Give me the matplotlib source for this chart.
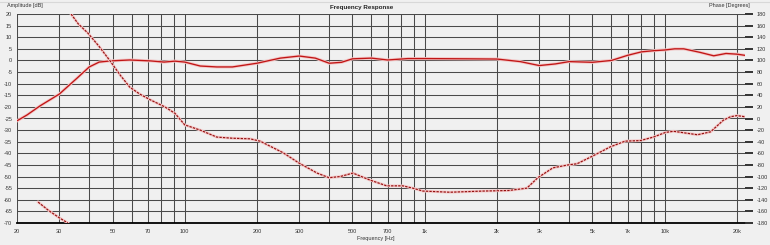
import matplotlib
matplotlib.use("Agg")
import matplotlib.pyplot as plt

# amplitude response (Hz, dB)
amp_freq = [20, 22, 25, 30, 35.6, 40, 44, 49, 59, 72, 82, 91, 100, 116, 136, 158, 200,
            250, 300, 350, 400, 450, 500, 600, 700, 850, 1000, 1500, 2000, 2500, 3000,
            3500, 4000, 5000, 6000, 7000, 8000, 9000, 10000, 11000, 12000, 14000, 16000,
            18000, 20000, 21600]
amp_db = [-26, -23.5, -19.5, -14.5, -7.6, -2.8, -0.7, -0.2, 0.2, -0.2, -0.7, -0.3, -0.7,
          -2.4, -2.8, -2.8, -1.2, 1.0, 1.9, 1.0, -1.2, -0.8, 0.7, 1.0, 0.2, 0.8, 0.8, 0.7,
          0.6, -0.5, -2.2, -1.5, -0.5, -0.8, 0.0, 2.2, 3.7, 4.2, 4.5, 5.0, 5.0, 3.5, 2.0,
          3.0, 2.7, 2.2]

# phase (Hz, degrees), low part before the wrap at -180
ph_low_freq = [24.5, 27, 30, 32.6]
ph_low_deg = [-144, -158, -171, -180]

# phase after the wrap
ph_freq = [33.6, 36, 39.5, 44, 48.9, 54, 59, 65, 72, 82.6, 91, 100, 116, 136, 158, 187,
           206, 257, 300, 356, 399, 444, 502, 591, 694, 811, 892, 983, 1273, 1745, 2241,
           2663, 2960, 3420, 3950, 4310, 4990, 5920, 6840, 7920, 8970, 10070, 10880, 13690,
           15520, 17540, 18780, 20000, 21600]
ph_deg = [180, 163, 147, 124, 99, 74, 54, 42, 32, 20, 9, -11, -20, -32, -34, -35,
          -39, -59, -77, -94, -102, -100, -94, -106, -116, -116, -120, -125, -127, -125, -124,
          -120, -102, -85, -80, -78, -65, -49, -39, -38, -32, -24, -22, -28,
          -23, -3, 3, 5, 3]

grid_freqs = [20, 30, 40, 50, 60, 70, 80, 90, 100, 200, 300, 400, 500, 600, 700, 800, 900,
              1000, 2000, 3000, 4000, 5000, 6000, 7000, 8000, 9000, 10000, 20000]
freq_labels = {20: "20", 30: "30", 50: "50", 70: "70", 100: "100", 200: "200", 300: "300",
               500: "500", 700: "700", 1000: "1k", 2000: "2k", 3000: "3k", 5000: "5k",
               7000: "7k", 10000: "10k", 20000: "20k"}

plt.rcParams['axes.unicode_minus'] = False
plt.rcParams['font.family'] = 'Liberation Sans'

bg = '#f0f0f0'
W, H = 770, 245
fig = plt.figure(figsize=(W / 100, H / 100), dpi=100, facecolor=bg)
ax = fig.add_axes([17 / W, 1 - 223 / H, (745 - 17) / W, (223 - 14) / H])
ax.set_facecolor(bg)
ax.set_xscale('log')
ax.set_xlim(20, 21600)
ax.set_ylim(-70, 20)

ax.set_xticks(grid_freqs)
ax.set_xticklabels([freq_labels.get(f, "") for f in grid_freqs])
ax.xaxis.set_minor_locator(matplotlib.ticker.NullLocator())
ax.set_yticks(range(-70, 21, 5))
ax.tick_params(axis='both', length=0, labelsize=4, colors='#333333')
ax.tick_params(axis='x', pad=4)
ax.tick_params(axis='y', pad=3.5)
ax.grid(True, color='#4a4a4a', linewidth=0.75)
for s in ['top', 'right', 'left']:
    ax.spines[s].set_visible(False)
ax.spines['bottom'].set_color('black')
ax.spines['bottom'].set_linewidth(1.3)

# amplitude
ax.plot(amp_freq, amp_db, color='#f4c6c6', linewidth=2.2, zorder=3)
ax.plot(amp_freq, amp_db, color='#c01515', linewidth=0.95, zorder=4)

ax2 = ax.twinx()
ax2.set_ylim(-180, 180)
ax2.set_yticks(range(-180, 181, 20))
ax2.tick_params(axis='y', length=6, width=1.4, color='#333333', labelsize=4, pad=2.5,
                labelcolor='#333333')
for s in ax2.spines.values():
    s.set_visible(False)
ax2.patch.set_visible(False)

for fx, py in [(ph_low_freq, ph_low_deg), (ph_freq, ph_deg)]:
    ax2.plot(fx, py, color='#f4c8c8', linewidth=2.0, zorder=3)
    ax2.plot(fx, py, color='#951010', linewidth=0.85, linestyle=(0, (2, 1)), zorder=4)

fig.text(362 / W, 1 - 7 / H, "Frequency Response", ha='center', va='center',
         fontsize=4.5, fontweight='bold', color='#222222')
fig.text(7 / W, 1 - 5 / H, "Amplitude [dB]", ha='left', va='center', fontsize=4,
         color='#333333')
fig.text(750 / W, 1 - 6 / H, "Phase [Degrees]", ha='right', va='center', fontsize=4,
         color='#333333')
fig.text(376 / W, 1 - 238 / H, "Frequency [Hz]", ha='center', va='center', fontsize=4,
         color='#333333')
fig.add_artist(plt.Line2D([0, 1], [1 - 2 / H, 1 - 2 / H], color='#d8d8d8', linewidth=0.8))

fig.savefig("out.png", dpi=100, facecolor=bg)
